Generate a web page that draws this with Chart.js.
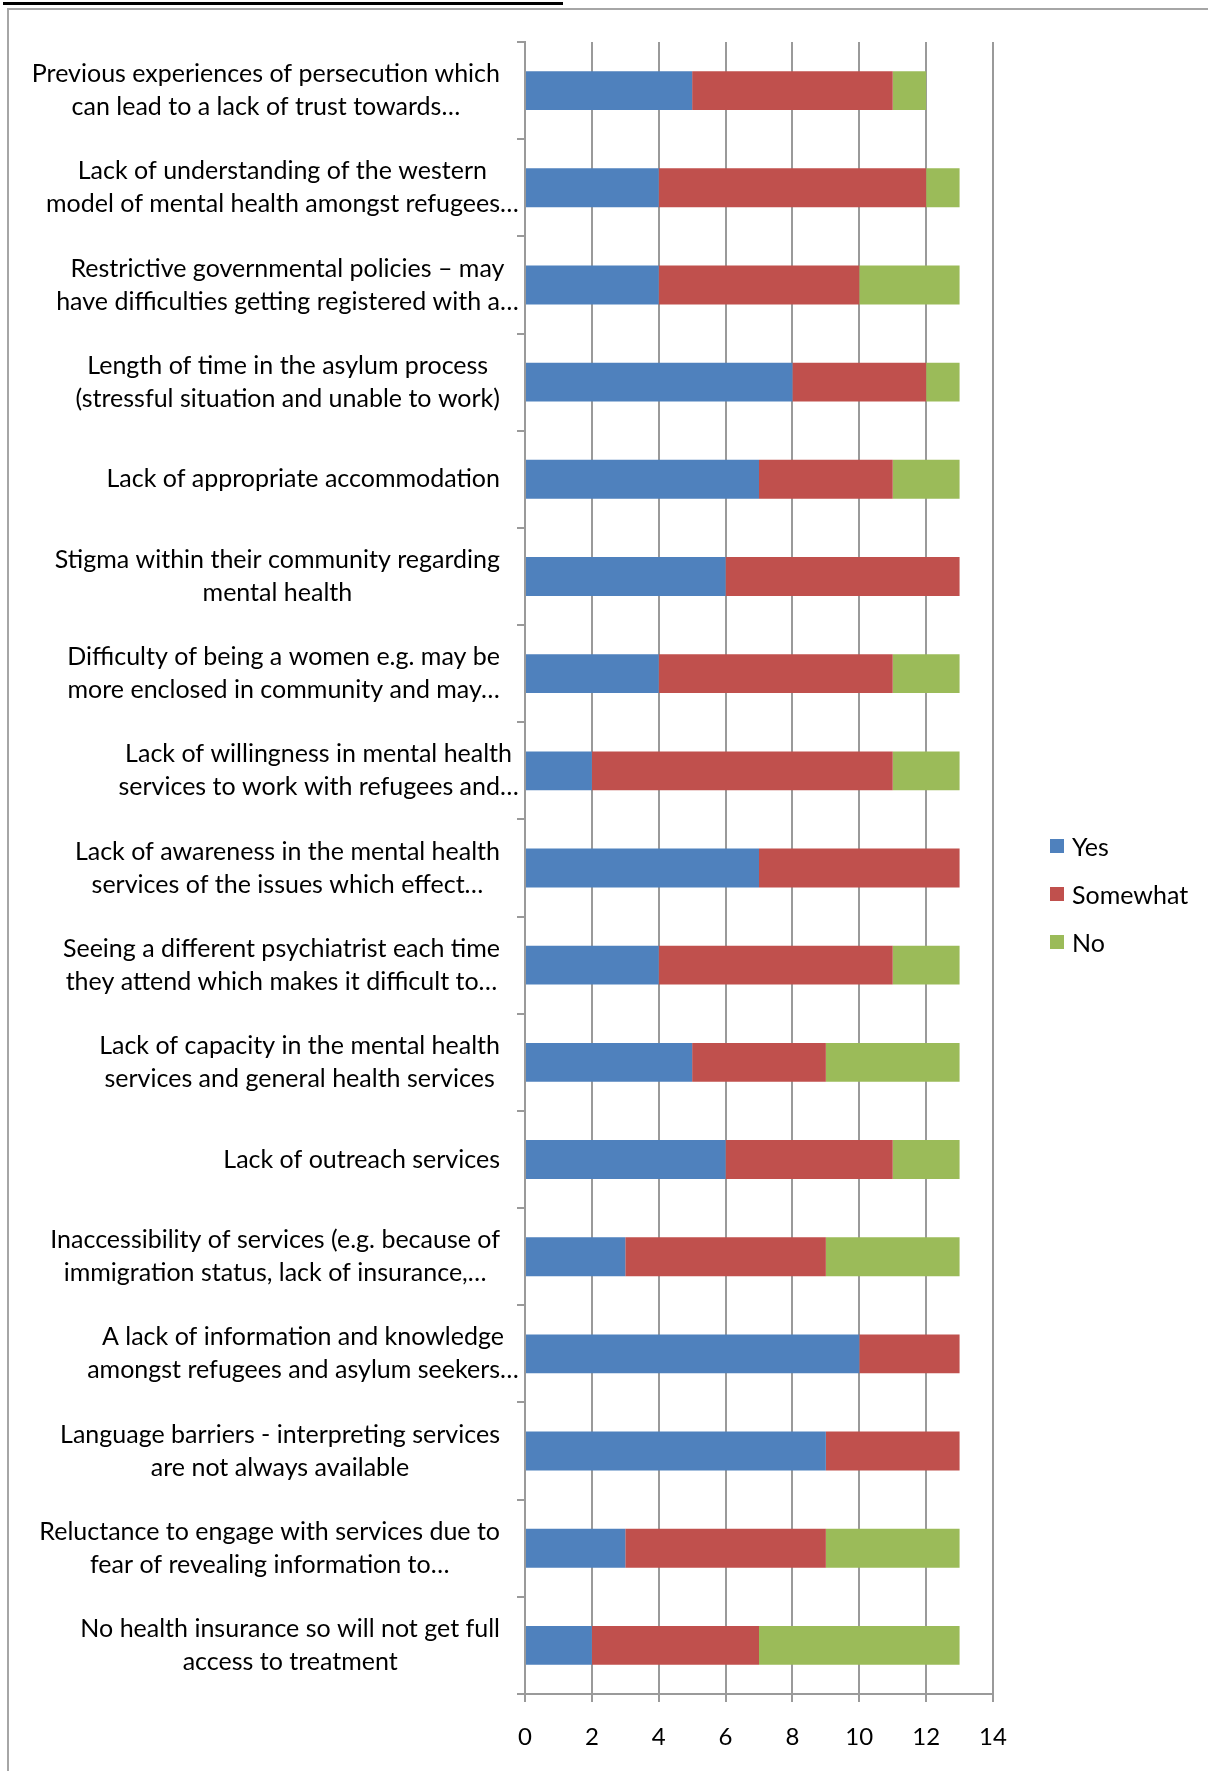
<!DOCTYPE html>
<html>
<head>
<meta charset="utf-8">
<script src="https://cdn.jsdelivr.net/npm/chart.js@4/dist/chart.umd.min.js"></script>
<style>
    body { margin: 0; background: #fff; }
    #wrap { position: relative; width: 1208px; height: 1771px; overflow: hidden; }
    .frame { position: absolute; left: 7px; top: 8px; right: -10px; bottom: -10px;
             border-left: 2px solid #a6a6a6; border-top: 2px solid #a6a6a6; }
    .title-rule { position: absolute; left: 3px; top: 2px; width: 560px; height: 3px; background: #000; }
    #chart { position: absolute; left: 0; top: 0; }
    #legend { position: absolute; left: 1050px; top: 822px; font: 25px Lato, sans-serif; color: #000; }
    #legend .item { display: flex; align-items: center; height: 48px; }
    #legend .sw { width: 14px; height: 14px; margin-right: 8px; }
</style>
</head>
<body>
<div id="wrap">
    <div class="title-rule"></div>
    <div class="frame"></div>
    <canvas id="chart" width="1208" height="1771"></canvas>
    <div id="legend"></div>
</div>
<script>
// categories, top to bottom
const categories = [
    ['Previous experiences of persecution which', 'can lead to a lack of trust towards…'],
    ['Lack of understanding of the western', 'model of mental health amongst refugees…'],
    ['Restrictive governmental policies – may', 'have difficulties getting registered with a…'],
    ['Length of time in the asylum process', '(stressful situation and unable to work)'],
    ['Lack of appropriate accommodation'],
    ['Stigma within their community regarding', 'mental health'],
    ['Difficulty of being a women e.g. may be', 'more enclosed in community and may…'],
    ['Lack of willingness in mental health', 'services to work with refugees and…'],
    ['Lack of awareness in the mental health', 'services of the issues which effect…'],
    ['Seeing a different psychiatrist each time', 'they attend which makes it difficult to…'],
    ['Lack of capacity in the mental health', 'services and general health services'],
    ['Lack of outreach services'],
    ['Inaccessibility of services (e.g. because of', 'immigration status, lack of insurance,…'],
    ['A lack of information and knowledge', 'amongst refugees and asylum seekers…'],
    ['Language barriers - interpreting services', 'are not always available'],
    ['Reluctance to engage with services due to', 'fear of revealing information to…'],
    ['No health insurance so will not get full', 'access to treatment']
];

const seriesNames = ['Yes', 'Somewhat', 'No'];
const yesValues      = [5, 4, 4, 8, 7, 6, 4, 2, 7, 4, 5, 6, 3, 10, 9, 3, 2];
const somewhatValues = [6, 8, 6, 4, 4, 7, 7, 9, 6, 7, 4, 5, 6, 3, 4, 6, 5];
const noValues       = [1, 1, 3, 1, 2, 0, 2, 2, 0, 2, 4, 2, 4, 0, 0, 4, 6];
const xTicks = [0, 2, 4, 6, 8, 10, 12, 14];

const colors = ['#4F81BD', '#C0504D', '#9BBB59'];
const FONT = 'Lato, sans-serif';
const GRID = '#9a9a9a';

// wrapped category labels: lines centred in a right-aligned block
const categoryLabels = {
    id: 'categoryLabels',
    afterDraw(chart) {
        const { ctx } = chart;
        const yScale = chart.scales.y;
        const right = 500, lineH = 33;
        ctx.save();
        ctx.font = '25px ' + FONT;
        ctx.fillStyle = '#000';
        ctx.textAlign = 'center';
        ctx.textBaseline = 'middle';
        categories.forEach((lines, i) => {
            const cy = yScale.getPixelForTick(i);
            let widest = 0, trimmed = 0;
            lines.forEach(l => {
                const w = ctx.measureText(l).width;
                if (w > widest) {
                    widest = w;
                    trimmed = l.endsWith('…') ? ctx.measureText(l.slice(0, -1)).width : w;
                }
            });
            const cx = right - trimmed + widest / 2;
            const y0 = cy - (lines.length - 1) * lineH / 2;
            lines.forEach((l, k) => ctx.fillText(l, cx, y0 + k * lineH));
        });
        ctx.restore();
    }
};

const ctx = document.getElementById('chart');
new Chart(ctx.getContext('2d'), {
    type: 'bar',
    data: {
        labels: categories.map(c => c.join(' ')),
        datasets: [yesValues, somewhatValues, noValues].map((vals, i) => ({
            label: seriesNames[i],
            data: vals,
            backgroundColor: colors[i],
            borderWidth: 0,
            barPercentage: 0.4,
            categoryPercentage: 1
        }))
    },
    options: {
        indexAxis: 'y',
        responsive: false,
        animation: false,
        devicePixelRatio: 1,
        layout: { padding: { left: 0, right: 215, top: 42, bottom: 0 } },
        plugins: { legend: { display: false }, tooltip: { enabled: false } },
        scales: {
            x: {
                stacked: true,
                min: 0,
                max: 14,
                afterBuildTicks: s => { s.ticks = xTicks.map(v => ({ value: v })); },
                afterFit: s => { s.height = 1771 - 1694; },
                ticks: { font: { family: FONT, size: 24 }, color: '#000', padding: 21 },
                grid: { color: GRID, lineWidth: 2, tickLength: 8 },
                border: { color: GRID, width: 2 }
            },
            y: {
                stacked: true,
                afterFit: s => { s.width = 525; },
                ticks: { display: false },
                grid: { drawOnChartArea: false, color: GRID, lineWidth: 2, tickLength: 8 },
                border: { color: GRID, width: 2 }
            }
        }
    },
    plugins: [categoryLabels]
});

// legend
const legend = document.getElementById('legend');
seriesNames.forEach((name, i) => {
    const item = document.createElement('div');
    item.className = 'item';
    item.innerHTML = `<span class="sw" style="background:${colors[i]}"></span><span>${name}</span>`;
    legend.appendChild(item);
});
</script>
</body>
</html>
